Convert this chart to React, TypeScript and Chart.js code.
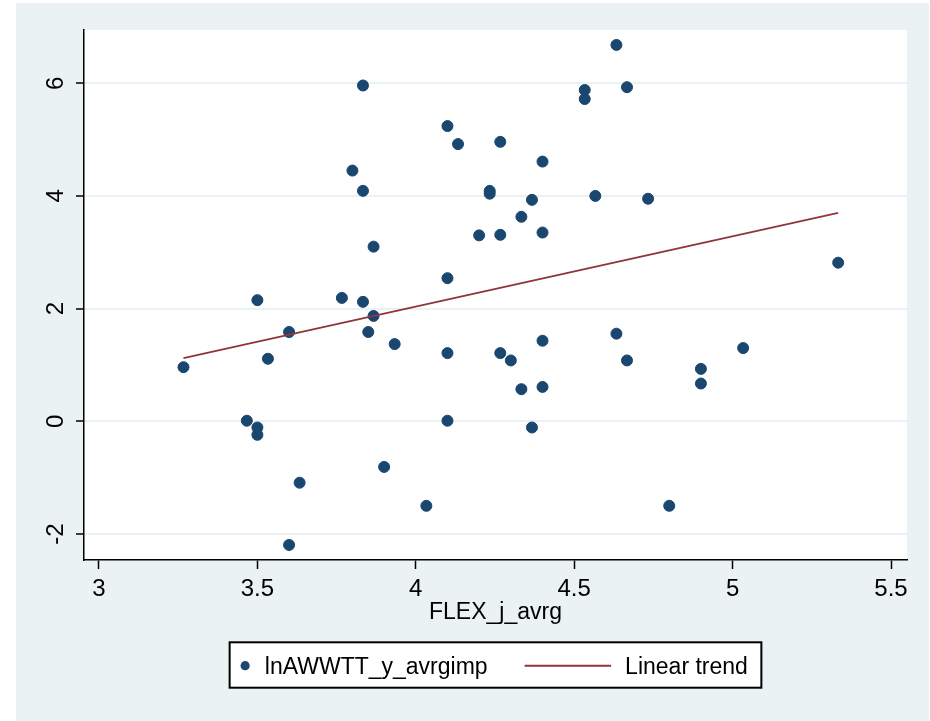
import React, { useEffect, useRef } from 'react';
import { Chart, registerables } from 'chart.js';

Chart.register(...registerables);

// ---- data ----
const flexX = [
  3.2667, 3.4667, 3.5, 3.5, 3.5, 3.5333, 3.6, 3.6, 3.6333, 3.7667,
  3.8, 3.8333, 3.8333, 3.8333, 3.85, 3.8667, 3.8667, 3.9, 3.9333, 4.0333,
  4.1, 4.1, 4.1, 4.1, 4.1333, 4.2, 4.2333, 4.2333, 4.2667, 4.2667,
  4.2667, 4.3, 4.3333, 4.3333, 4.3667, 4.3667, 4.4, 4.4, 4.4, 4.4,
  4.5333, 4.5333, 4.5667, 4.6333, 4.6333, 4.6667, 4.6667, 4.7333, 4.8, 4.9,
  4.9, 5.0333, 5.3333,
];
const lnAWWTT = [
  0.96, 0.01, -0.11, -0.24, 2.15, 1.11, 1.585, -2.195, -1.09, 2.19,
  4.45, 2.12, 5.96, 4.09, 1.585, 3.1, 1.87, -0.81, 1.37, -1.5,
  5.24, 2.54, 1.21, 0.01, 4.92, 3.3, 4.04, 4.09, 4.96, 3.31,
  1.21, 1.08, 3.63, 0.57, 3.93, -0.11, 4.61, 3.35, 1.43, 0.61,
  5.88, 5.72, 4.0, 6.68, 1.555, 5.93, 1.08, 3.95, -1.5, 0.93,
  0.67, 1.3, 2.815,
];
const trendX = [3.2667, 5.3333];
const trendY = [1.12, 3.7];
const xTickValues = [3, 3.5, 4, 4.5, 5, 5.5];
const yTickValues = [-2, 0, 2, 4, 6];
const seriesLabels = ['lnAWWTT_y_avrgimp', 'Linear trend'];
const xAxisTitle = 'FLEX_j_avrg';

const NAVY = '#1A476F';
const MAROON = '#90353B';
const BG = '#EAF2F3';
const FONT = "'Liberation Sans', Arial, sans-serif";

const chartAreaBg = {
  id: 'chartAreaBg',
  beforeDraw(chart: any) {
    const { ctx, chartArea: a } = chart;
    ctx.save();
    ctx.fillStyle = '#ffffff';
    ctx.fillRect(a.left, a.top, a.right - a.left, a.bottom - a.top);
    ctx.restore();
  },
};

const boxedLegend = {
  id: 'boxedLegend',
  afterDraw(chart: any) {
    const { ctx, chartArea: a } = chart;
    const ds = chart.data.datasets;
    ctx.save();
    ctx.font = `23px ${FONT}`;
    const t0 = ds[1].label as string;
    const t1 = ds[0].label as string;
    const w0 = ctx.measureText(t0).width;
    const w1 = ctx.measureText(t1).width;
    const padL = 15.5, dotGap = 19.7, midGap = 37, lineLen = 86.5, lineGap = 14, padR = 13.5;
    const boxW = padL + dotGap + w0 + midGap + lineLen + lineGap + w1 + padR;
    const boxH = 45.4;
    const cx = (a.left + a.right) / 2;
    const bx = cx - boxW / 2;
    const by = 642.3;
    ctx.fillStyle = '#ffffff';
    ctx.fillRect(bx, by, boxW, boxH);
    ctx.strokeStyle = '#000000';
    ctx.lineWidth = 2;
    ctx.strokeRect(bx, by, boxW, boxH);
    const midY = by + 23.4;
    const baseY = by + 32;
    // marker
    const dotX = bx + padL;
    ctx.fillStyle = NAVY;
    ctx.beginPath();
    ctx.arc(dotX, midY, 4.6, 0, Math.PI * 2);
    ctx.fill();
    // text 1
    ctx.fillStyle = '#000000';
    ctx.textBaseline = 'alphabetic';
    ctx.textAlign = 'left';
    const tx0 = dotX + dotGap;
    ctx.fillText(t0, tx0, baseY);
    // line symbol
    const lx = tx0 + w0 + midGap;
    ctx.strokeStyle = MAROON;
    ctx.lineWidth = 2;
    ctx.beginPath();
    ctx.moveTo(lx, midY);
    ctx.lineTo(lx + lineLen, midY);
    ctx.stroke();
    // text 2
    ctx.fillText(t1, lx + lineLen + lineGap, baseY);
    ctx.restore();
  },
};

export default function App() {
  const canvasRef = useRef<HTMLCanvasElement | null>(null);

  useEffect(() => {
    if (!canvasRef.current) return;
    const scatterData = flexX.map((x, i) => ({ x, y: lnAWWTT[i] }));
    const trendData = trendX.map((x, i) => ({ x, y: trendY[i] }));

    const chart = new Chart(canvasRef.current, {
      type: 'scatter',
      data: {
        datasets: [
          {
            type: 'line',
            label: seriesLabels[1],
            data: trendData,
            borderColor: MAROON,
            borderWidth: 1.8,
            pointRadius: 0,
            fill: false,
            order: 1,
          } as any,
          {
            type: 'scatter',
            label: seriesLabels[0],
            data: scatterData,
            backgroundColor: NAVY,
            borderColor: NAVY,
            borderWidth: 1,
            pointRadius: 5.5,
            order: 2,
          },
        ],
      },
      options: {
        responsive: false,
        animation: false,
        events: [],
        layout: { padding: { left: 0, right: 23, top: 30, bottom: 0 } },
        plugins: {
          legend: { display: false },
          tooltip: { enabled: false },
        },
        scales: {
          x: {
            type: 'linear',
            min: 2.9527,
            max: 5.5505,
            afterBuildTicks: (s: any) => {
              s.ticks = xTickValues.map((v) => ({ value: v }));
            },
            afterFit: (s: any) => {
              s.height = 161;
            },
            ticks: {
              includeBounds: false,
              color: '#000000',
              font: { family: FONT, size: 24 },
              padding: 6,
              maxRotation: 0,
              minRotation: 0,
              callback: (v: any) => String(v),
            },
            grid: {
              drawOnChartArea: false,
              drawTicks: true,
              tickLength: 9,
              tickWidth: 1.5,
              tickColor: '#000000',
            },
            border: { display: true, color: '#000000', width: 1.5 },
            title: {
              display: true,
              text: xAxisTitle,
              color: '#000000',
              font: { family: FONT, size: 23 },
              padding: { top: 0, bottom: 94.7 },
            },
          },
          y: {
            type: 'linear',
            min: -2.462,
            max: 6.945,
            afterBuildTicks: (s: any) => {
              s.ticks = yTickValues.map((v) => ({ value: v }));
            },
            afterFit: (s: any) => {
              s.width = 84;
            },
            ticks: {
              includeBounds: false,
              color: '#000000',
              font: { family: FONT, size: 24 },
              padding: 9,
              minRotation: 90,
              maxRotation: 90,
              crossAlign: 'center',
              callback: (v: any) => String(v),
            },
            grid: {
              color: BG,
              lineWidth: 2,
              drawTicks: true,
              tickLength: 8,
              tickWidth: 1.5,
              tickColor: '#000000',
            },
            border: { display: true, color: '#000000', width: 1.5 },
          },
        },
      },
      plugins: [chartAreaBg, boxedLegend],
    });
    return () => chart.destroy();
  }, []);

  return (
    <div
      style={{
        position: 'fixed',
        left: 0,
        top: 0,
        width: 930,
        height: 721,
        background: '#ffffff',
        overflow: 'hidden',
      }}
    >
      <div
        style={{
          position: 'absolute',
          left: 16,
          top: 3,
          width: 913,
          height: 718,
          background: BG,
        }}
      />
      <canvas
        ref={canvasRef}
        width={930}
        height={721}
        style={{ position: 'absolute', left: 0, top: 0, width: 930, height: 721 }}
      />
    </div>
  );
}
